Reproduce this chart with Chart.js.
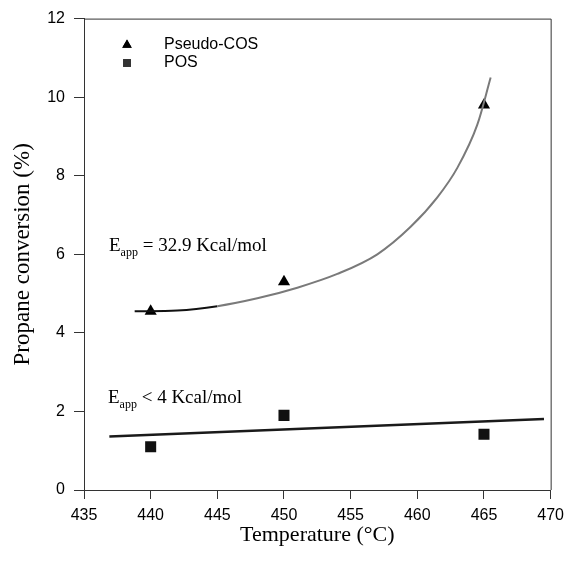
<!DOCTYPE html>
<html>
<head>
<meta charset="utf-8">
<script src="https://cdn.jsdelivr.net/npm/chart.js@4.4.1/dist/chart.umd.min.js"></script>
<style>
    html, body { margin: 0; padding: 0; background: #fff; }
    #wrap { width: 571px; height: 566px; }
</style>
</head>
<body>
<div id="wrap"><canvas id="convChart" width="571" height="566"></canvas></div>
<script>
// measured points
const temps = [440, 450, 465];
const pseudoCos = [4.55, 5.3, 9.8];
const pos = [1.1, 1.9, 1.42];

// fit curves
const expFitT = [438.8, 442, 445, 448, 451, 454, 457, 459.5, 461.5, 463, 464.5, 465.5];
const expFitY = [4.55, 4.57, 4.68, 4.88, 5.15, 5.5, 6.0, 6.7, 7.45, 8.2, 9.3, 10.5];
const linFitT = [436.9, 469.5];
const linFitY = [1.36, 1.81];

const xTicks = [435, 440, 445, 450, 455, 460, 465, 470];
const yTicks = [0, 2, 4, 6, 8, 10, 12];

const toXY = (xs, ys) => xs.map((x, i) => ({ x: x, y: ys[i] }));

// legend + text notes + frame
const extrasPlugin = {
    id: 'extras',
    afterDatasetsDraw(chart) {
        const ctx = chart.ctx;
        const area = chart.chartArea;
        ctx.save();
        ctx.strokeStyle = '#333';
        ctx.lineWidth = 1;
        ctx.beginPath();
        ctx.moveTo(area.left, area.top + 0.5);
        ctx.lineTo(area.right + 0.5, area.top + 0.5);
        ctx.lineTo(area.right + 0.5, area.bottom);
        ctx.stroke();

        // legend
        ctx.fillStyle = '#000';
        ctx.font = "16px 'Liberation Sans', Arial, sans-serif";
        ctx.textBaseline = 'middle';
        Chart.helpers.drawPoint(ctx, { pointStyle: 'triangle', radius: 5.5, rotation: 0, borderWidth: 0 }, 127, 45);
        ctx.fill();
        ctx.fillText('Pseudo-COS', 164, 45);
        ctx.fillStyle = '#333';
        Chart.helpers.drawPoint(ctx, { pointStyle: 'rect', radius: 5.5, rotation: 0, borderWidth: 0 }, 127, 63);
        ctx.fill();
        ctx.fillStyle = '#000';
        ctx.fillText('POS', 164, 63);

        // activation energy notes
        const note = (x, y, rest) => {
            ctx.textBaseline = 'alphabetic';
            ctx.font = "19px 'Liberation Serif', 'Times New Roman', serif";
            ctx.fillText('E', x, y);
            let w = ctx.measureText('E').width;
            ctx.font = "12px 'Liberation Serif', 'Times New Roman', serif";
            ctx.fillText('app', x + w, y + 5);
            w += ctx.measureText('app').width;
            ctx.font = "19px 'Liberation Serif', 'Times New Roman', serif";
            ctx.fillText(rest, x + w, y);
        };
        note(109, 251, ' = 32.9 Kcal/mol');
        note(108, 403, ' < 4 Kcal/mol');
        ctx.restore();
    }
};

const tickFont = { family: "'Liberation Sans', Arial, sans-serif", size: 16 };
const titleFont = { family: "'Liberation Serif', 'Times New Roman', serif", size: 22 };

new Chart(document.getElementById('convChart'), {
    type: 'scatter',
    data: {
        datasets: [
            {
                label: 'Pseudo-COS fit',
                data: toXY(expFitT, expFitY),
                showLine: true,
                pointRadius: 0,
                borderWidth: 2,
                borderColor: '#7a7a7a',
                cubicInterpolationMode: 'monotone',
                segment: {
                    borderColor: c => c.p0.parsed.x < 443 ? '#111' : '#7a7a7a'
                }
            },
            {
                label: 'POS fit',
                data: toXY(linFitT, linFitY),
                showLine: true,
                pointRadius: 0,
                borderWidth: 2.5,
                borderColor: '#1a1a1a'
            },
            {
                label: 'Pseudo-COS',
                data: toXY(temps, pseudoCos),
                pointStyle: 'triangle',
                pointRadius: 7,
                backgroundColor: '#000',
                borderColor: '#000',
                borderWidth: 0
            },
            {
                label: 'POS',
                data: toXY(temps, pos),
                pointStyle: 'rect',
                pointRadius: 7.8,
                backgroundColor: '#111',
                borderColor: '#111',
                borderWidth: 0
            }
        ]
    },
    options: {
        responsive: false,
        animation: false,
        layout: { padding: { left: 0, right: 18, top: 18, bottom: 0 } },
        plugins: {
            legend: { display: false },
            tooltip: { enabled: false }
        },
        scales: {
            x: {
                type: 'linear',
                min: 435,
                max: 470,
                afterBuildTicks: s => { s.ticks = xTicks.map(v => ({ value: v })); },
                afterFit: s => { s.height = 76; },
                ticks: { color: '#000', font: tickFont, padding: 7 },
                grid: { drawOnChartArea: false, tickLength: 9, tickColor: '#333', tickWidth: 1 },
                border: { color: '#333', width: 1 },
                title: {
                    display: true,
                    text: 'Temperature (°C)',
                    color: '#000',
                    font: titleFont,
                    padding: { top: 4, bottom: 18 }
                }
            },
            y: {
                min: 0,
                max: 12,
                afterBuildTicks: s => { s.ticks = yTicks.map(v => ({ value: v })); },
                afterFit: s => { s.width = 84; },
                ticks: { color: '#000', font: tickFont, padding: 9 },
                grid: { drawOnChartArea: false, tickLength: 10, tickColor: '#333', tickWidth: 1 },
                border: { color: '#333', width: 1 },
                title: {
                    display: true,
                    text: 'Propane conversion (%)',
                    color: '#000',
                    font: { family: "'Liberation Serif', 'Times New Roman', serif", size: 23 },
                    padding: { top: 9, bottom: 4 }
                }
            }
        }
    },
    plugins: [extrasPlugin]
});
</script>
</body>
</html>
